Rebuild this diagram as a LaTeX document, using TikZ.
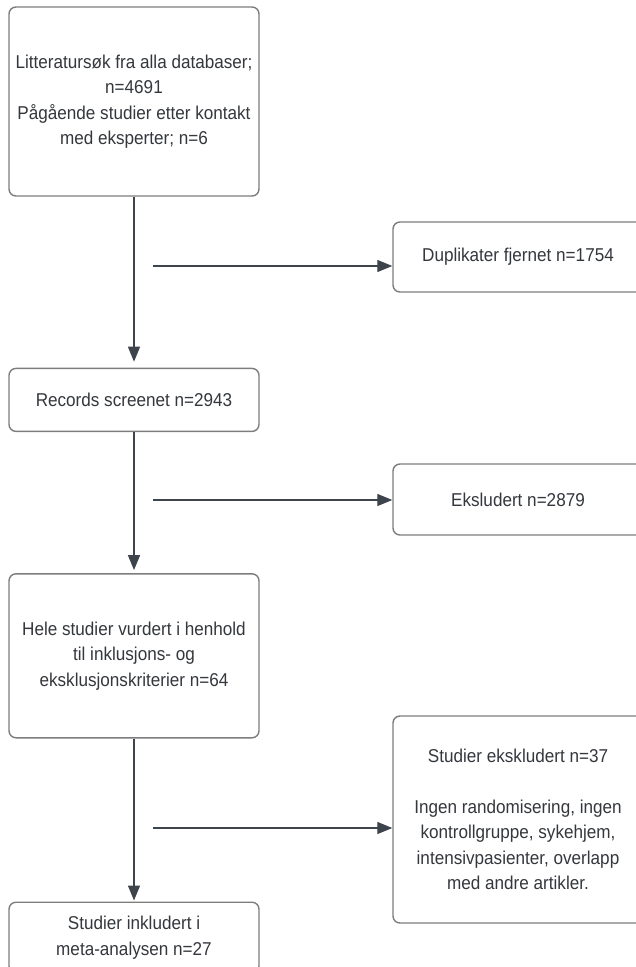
\documentclass[tikz,border=0pt]{standalone}
\usepackage{fontspec}
\setmainfont{Liberation Sans}[FakeStretch=0.92]
\usepackage{xcolor}
\usepackage{tikz}
\usetikzlibrary{arrows.meta, positioning}

\definecolor{boxline}{HTML}{7D7D7D}
\definecolor{inktext}{HTML}{34373C}
\definecolor{arrowink}{HTML}{3E444C}

\begin{document}
\begin{tikzpicture}[
  x=1pt, y=1pt,
  stepbox/.style={draw=boxline, line width=1.4pt, rounded corners=7pt,
                  fill=white, minimum width=250pt, align=center,
                  text=inktext, inner sep=4pt,
                  font=\fontsize{18.6}{25.5}\selectfont},
  arrow/.style={-{Triangle[length=15pt, width=12pt]}, line width=1.3pt,
                draw=arrowink},
]
\useasboundingbox (0,0) rectangle (636,-967);
\clip (0,0) rectangle (636,-967);

% main column
\node[stepbox, minimum height=189pt] (lit) at (134,-101.5)
  {Litteratursøk fra alla databaser;\\ n=4691\\ Pågående studier etter kontakt\\ med eksperter; n=6};
\node[stepbox, minimum height=63pt,  below=171pt of lit]  (rec)  {Records screenet n=2943};
\node[stepbox, minimum height=164pt, below=141pt of rec]  (hele)
  {Hele studier vurdert i henhold\\ til inklusjons- og\\ eksklusjonskriterier n=64};
\node[stepbox, minimum height=71pt,  below=163pt of hele] (inkl)
  {Studier inkludert i\\ meta-analysen n=27};

% side boxes
\node[stepbox, minimum height=70pt]  (dup)   at (518,-257)   {Duplikater fjernet n=1754};
\node[stepbox, minimum height=71pt]  (eks)   at (518,-499.5) {Eksludert n=2879};
\node[stepbox, minimum height=207pt] (ekskl) at (518,-819.5)
  {Studier ekskludert n=37\\[25.5pt] Ingen randomisering, ingen\\ kontrollgruppe, sykehjem,\\ intensivpasienter, overlapp\\ med andre artikler.};

\coordinate (d1) at (153,-266);
\coordinate (d2) at (153,-500);
\coordinate (d3) at (153,-828);

\draw[arrow, shorten >=6pt] (lit) -- (rec);
\draw[arrow, shorten >=3pt] (rec) -- (hele);
\draw[arrow, shorten >=1pt] (hele) -- (inkl);
\draw[arrow] (d1) -- (d1 -| dup.west);
\draw[arrow] (d2) -- (d2 -| eks.west);
\draw[arrow] (d3) -- (d3 -| ekskl.west);
\end{tikzpicture}
\end{document}
